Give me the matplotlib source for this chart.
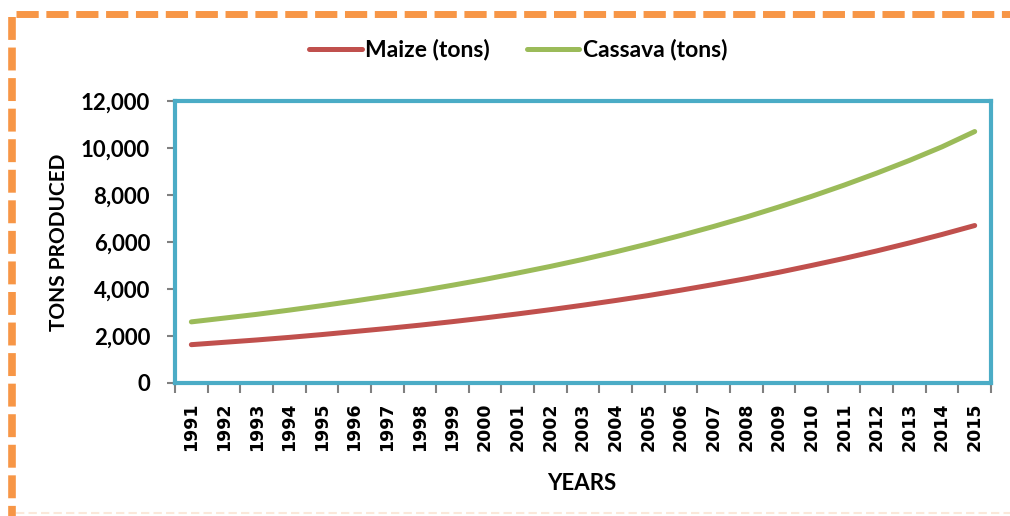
import matplotlib
matplotlib.use("Agg")
import matplotlib.pyplot as plt
from matplotlib.lines import Line2D
from matplotlib.ticker import FuncFormatter, FixedLocator

# valores
years = list(range(1991, 2016))
maize = [1630, 1730, 1830, 1940, 2060, 2190, 2320, 2460, 2610, 2770,
         2940, 3120, 3310, 3510, 3720, 3950, 4190, 4440, 4710, 5000,
         5300, 5620, 5960, 6320, 6700]
cassava = [2600, 2760, 2920, 3100, 3290, 3490, 3700, 3920, 4160, 4410,
           4680, 4960, 5260, 5580, 5920, 6280, 6660, 7060, 7490, 7940,
           8420, 8930, 9470, 10050, 10700]
y_ticks = [0, 2000, 4000, 6000, 8000, 10000, 12000]

plt.rcParams['font.family'] = ['Lato', 'DejaVu Sans']

fig = plt.figure(figsize=(10.1, 5.16), dpi=100)
ax = fig.add_axes([0.1733, 0.2578, 0.8079, 0.5465])

x = list(range(len(years)))
ax.plot(x, maize, color='#C0504D', lw=3.6, solid_capstyle='round', label='Maize (tons)')
ax.plot(x, cassava, color='#9BBB59', lw=3.6, solid_capstyle='round', label='Cassava (tons)')

ax.set_xlim(-0.5, len(years) - 0.5)
ax.set_ylim(0, 12000)

# etiquetas en el centro, marcas entre categorias (estilo Excel)
ax.set_xticks(x)
ax.set_xticklabels([str(y) for y in years], rotation=90, fontfamily='DejaVu Sans',
                   fontweight='bold', fontsize=12.5)
ax.xaxis.set_minor_locator(FixedLocator([i - 0.5 for i in range(len(years) + 1)]))
ax.tick_params(axis='x', which='major', length=0, pad=14)
ax.tick_params(axis='x', which='minor', length=7, width=1.5, color='#808080', direction='out')

ax.set_yticks(y_ticks)
ax.yaxis.set_major_formatter(FuncFormatter(lambda v, p: f"{int(v):,}"))
ax.tick_params(axis='y', length=6, width=1.5, color='#808080', pad=12, labelsize=16)
for lab in ax.get_yticklabels():
    lab.set_fontweight('bold')

for s in ax.spines.values():
    s.set_color('#4BACC6')
    s.set_linewidth(3)

ax.set_ylabel('TONS PRODUCED', fontsize=15, fontweight='bold')
ax.yaxis.set_label_coords(-0.13, 0.5)
ax.set_xlabel('YEARS', fontsize=16, fontweight='bold')
ax.xaxis.set_label_coords(0.499, -0.32)

fig.legend(loc='center', bbox_to_anchor=(0.513, 1 - 50 / 516), ncol=2, frameon=False,
           prop={'weight': 'bold', 'size': 16.5}, handlelength=2.3, handletextpad=0.15,
           columnspacing=1.6)

# borde naranja punteado
fig.add_artist(Line2D([16 / 1010, 1.0], [1 - 13.5 / 516, 1 - 13.5 / 516], transform=fig.transFigure,
                      color='#F79646', lw=5, dashes=(3.2, 1.1)))
fig.add_artist(Line2D([12 / 1010, 12 / 1010], [1 - 17 / 516, 0], transform=fig.transFigure,
                      color='#F79646', lw=5.5, dashes=(3.0, 1.0)))
fig.add_artist(Line2D([16 / 1010, 1.0], [3 / 516, 3 / 516], transform=fig.transFigure,
                      color='#FBE8DA', lw=1.5, dashes=(4, 2)))

plt.savefig("out.png", dpi=100)
